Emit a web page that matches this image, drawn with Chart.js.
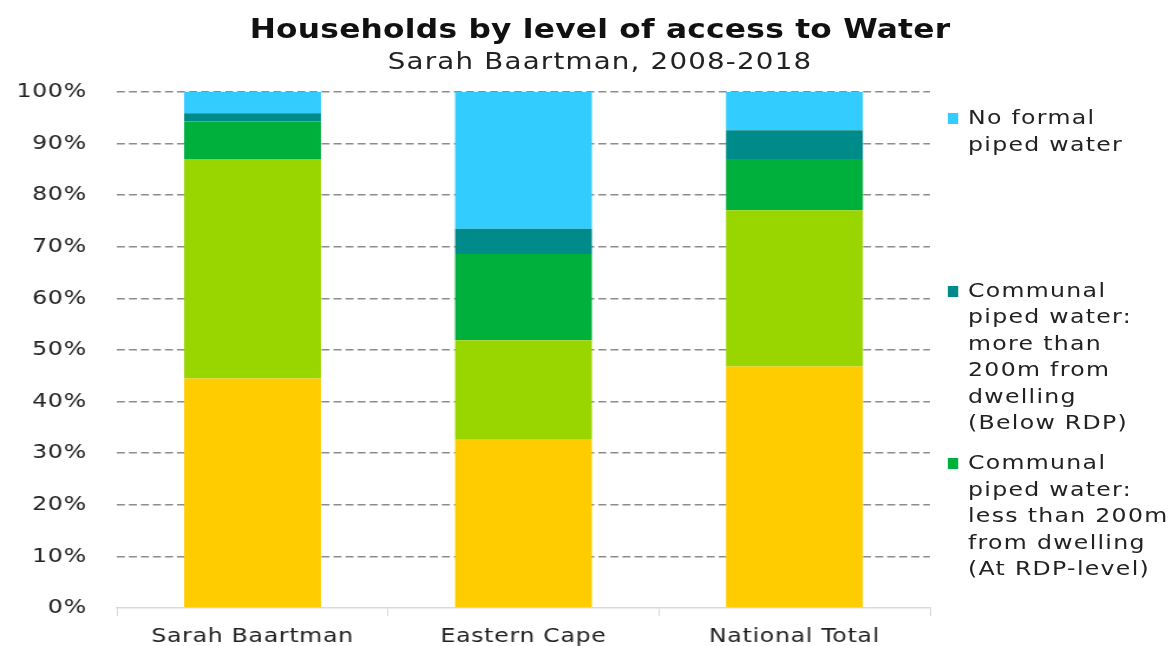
<!DOCTYPE html>
<html>
<head>
<meta charset="utf-8">
<script src="https://cdn.jsdelivr.net/npm/chart.js@4.4.1/dist/chart.umd.min.js"></script>
<style>
    html, body { margin: 0; padding: 0; background: #fff; overflow: hidden; width: 1173px; height: 646px; }
    /* the source picture is stretched sideways, so draw narrow and widen */
    #wrap { position: relative; width: 994px; height: 646px; overflow: hidden; font-family: "DejaVu Sans", sans-serif;
            transform: scaleX(1.18008); transform-origin: 0 0; }
    #chart { position: absolute; left: 0; top: 0; }
    .head { position: absolute; left: 0; width: 1017px; text-align: center; color: #111; white-space: nowrap; line-height: 1.2; }
    #title { top: 13px; font-size: 26.5px; font-weight: bold; letter-spacing: 0.2px; }
    #subtitle { top: 47px; font-size: 23.5px; letter-spacing: 1px; color: #222; }
    #legend { position: absolute; left: 802.5px; top: 104px; }
    .item { position: absolute; left: 0; white-space: pre; font-size: 20px; line-height: 26.5px; letter-spacing: 1.1px; color: #222; }
    .swatch { position: absolute; left: 0; top: 9px; width: 9.3px; height: 11px; }
    .txt { display: block; margin-left: 17.8px; }
</style>
</head>
<body>
<div id="wrap">
    <canvas id="chart" width="994" height="658"></canvas>
    <div class="head" id="title">Households by level of access to Water</div>
    <div class="head" id="subtitle">Sarah Baartman, 2008-2018</div>
    <div id="legend"></div>
</div>
<script>
// categories and series (bottom to top of each bar), in percent
const categories = ['Sarah Baartman', 'Eastern Cape', 'National Total'];
const seriesNames = [
    'Piped water inside dwelling',
    'Piped water inside yard',
    'Communal\npiped water:\nless than 200m\nfrom dwelling\n(At RDP-level)',
    'Communal\npiped water:\nmore than\n200m from\ndwelling\n(Below RDP)',
    'No formal\npiped water'
];
const insideDwelling = [44.5, 32.6, 46.8];
const insideYard = [42.5, 19.3, 30.3];
const communalNear = [7.3, 16.7, 9.9];
const communalFar = [1.6, 4.9, 5.6];
const noFormal = [4.1, 26.5, 7.4];
const yTicks = [0, 10, 20, 30, 40, 50, 60, 70, 80, 90, 100];

const seriesValues = [insideDwelling, insideYard, communalNear, communalFar, noFormal];
const seriesColors = ['#ffcc00', '#99d600', '#00b03c', '#008b8b', '#33ccff'];
// only the top three series show in the (clipped) legend
const legendSeries = [4, 3, 2];

// a touch of extra spacing on the canvas text
const spacing = {
    id: 'spacing',
    beforeUpdate(chart) { chart.ctx.letterSpacing = '0.6px'; },
    beforeDraw(chart) { chart.ctx.letterSpacing = '0.6px'; }
};

const chart = new Chart(document.getElementById('chart'), {
    type: 'bar',
    data: {
        labels: categories,
        datasets: seriesNames.map((name, i) => ({
            label: name,
            data: seriesValues[i],
            backgroundColor: seriesColors[i],
            borderWidth: 0,
            categoryPercentage: 1,
            barPercentage: 0.505
        }))
    },
    options: {
        responsive: false,
        animation: false,
        layout: { padding: { top: 92, right: 206, left: 0, bottom: 0 } },
        scales: {
            x: {
                stacked: true,
                grid: {
                    offset: true,
                    drawOnChartArea: false,
                    drawTicks: true,
                    tickLength: 8,
                    color: '#d9d9d9'
                },
                border: { color: '#d9d9d9', width: 1.5 },
                ticks: {
                    padding: 9,
                    color: '#222',
                    font: { family: 'DejaVu Sans', size: 20 }
                }
            },
            y: {
                stacked: true,
                min: 0,
                max: 100,
                afterBuildTicks: scale => { scale.ticks = yTicks.map(v => ({ value: v })); },
                afterFit: scale => { scale.width = 99.2; },
                grid: {
                    drawTicks: false,
                    color: ctx => ctx.tick && ctx.tick.value === 0 ? 'rgba(0,0,0,0)' : '#8c8c8c',
                    lineWidth: 1.5
                },
                border: { display: false, dash: [6.8, 3.4] },
                ticks: {
                    padding: 25.7,
                    color: '#222',
                    font: { family: 'DejaVu Sans', size: 20 },
                    callback: v => v + '%'
                }
            }
        },
        plugins: {
            legend: { display: false },
            tooltip: { enabled: false }
        }
    },
    plugins: [spacing]
});

// legend built from the chart's own datasets
const legend = document.getElementById('legend');
legendSeries.forEach((idx, i) => {
    const ds = chart.data.datasets[idx];
    const item = document.createElement('div');
    item.className = 'item';
    item.style.top = (i * 172.5) + 'px';
    const sw = document.createElement('span');
    sw.className = 'swatch';
    sw.style.background = ds.backgroundColor;
    const txt = document.createElement('span');
    txt.className = 'txt';
    txt.textContent = ds.label;
    item.appendChild(sw);
    item.appendChild(txt);
    legend.appendChild(item);
});
</script>
</body>
</html>
